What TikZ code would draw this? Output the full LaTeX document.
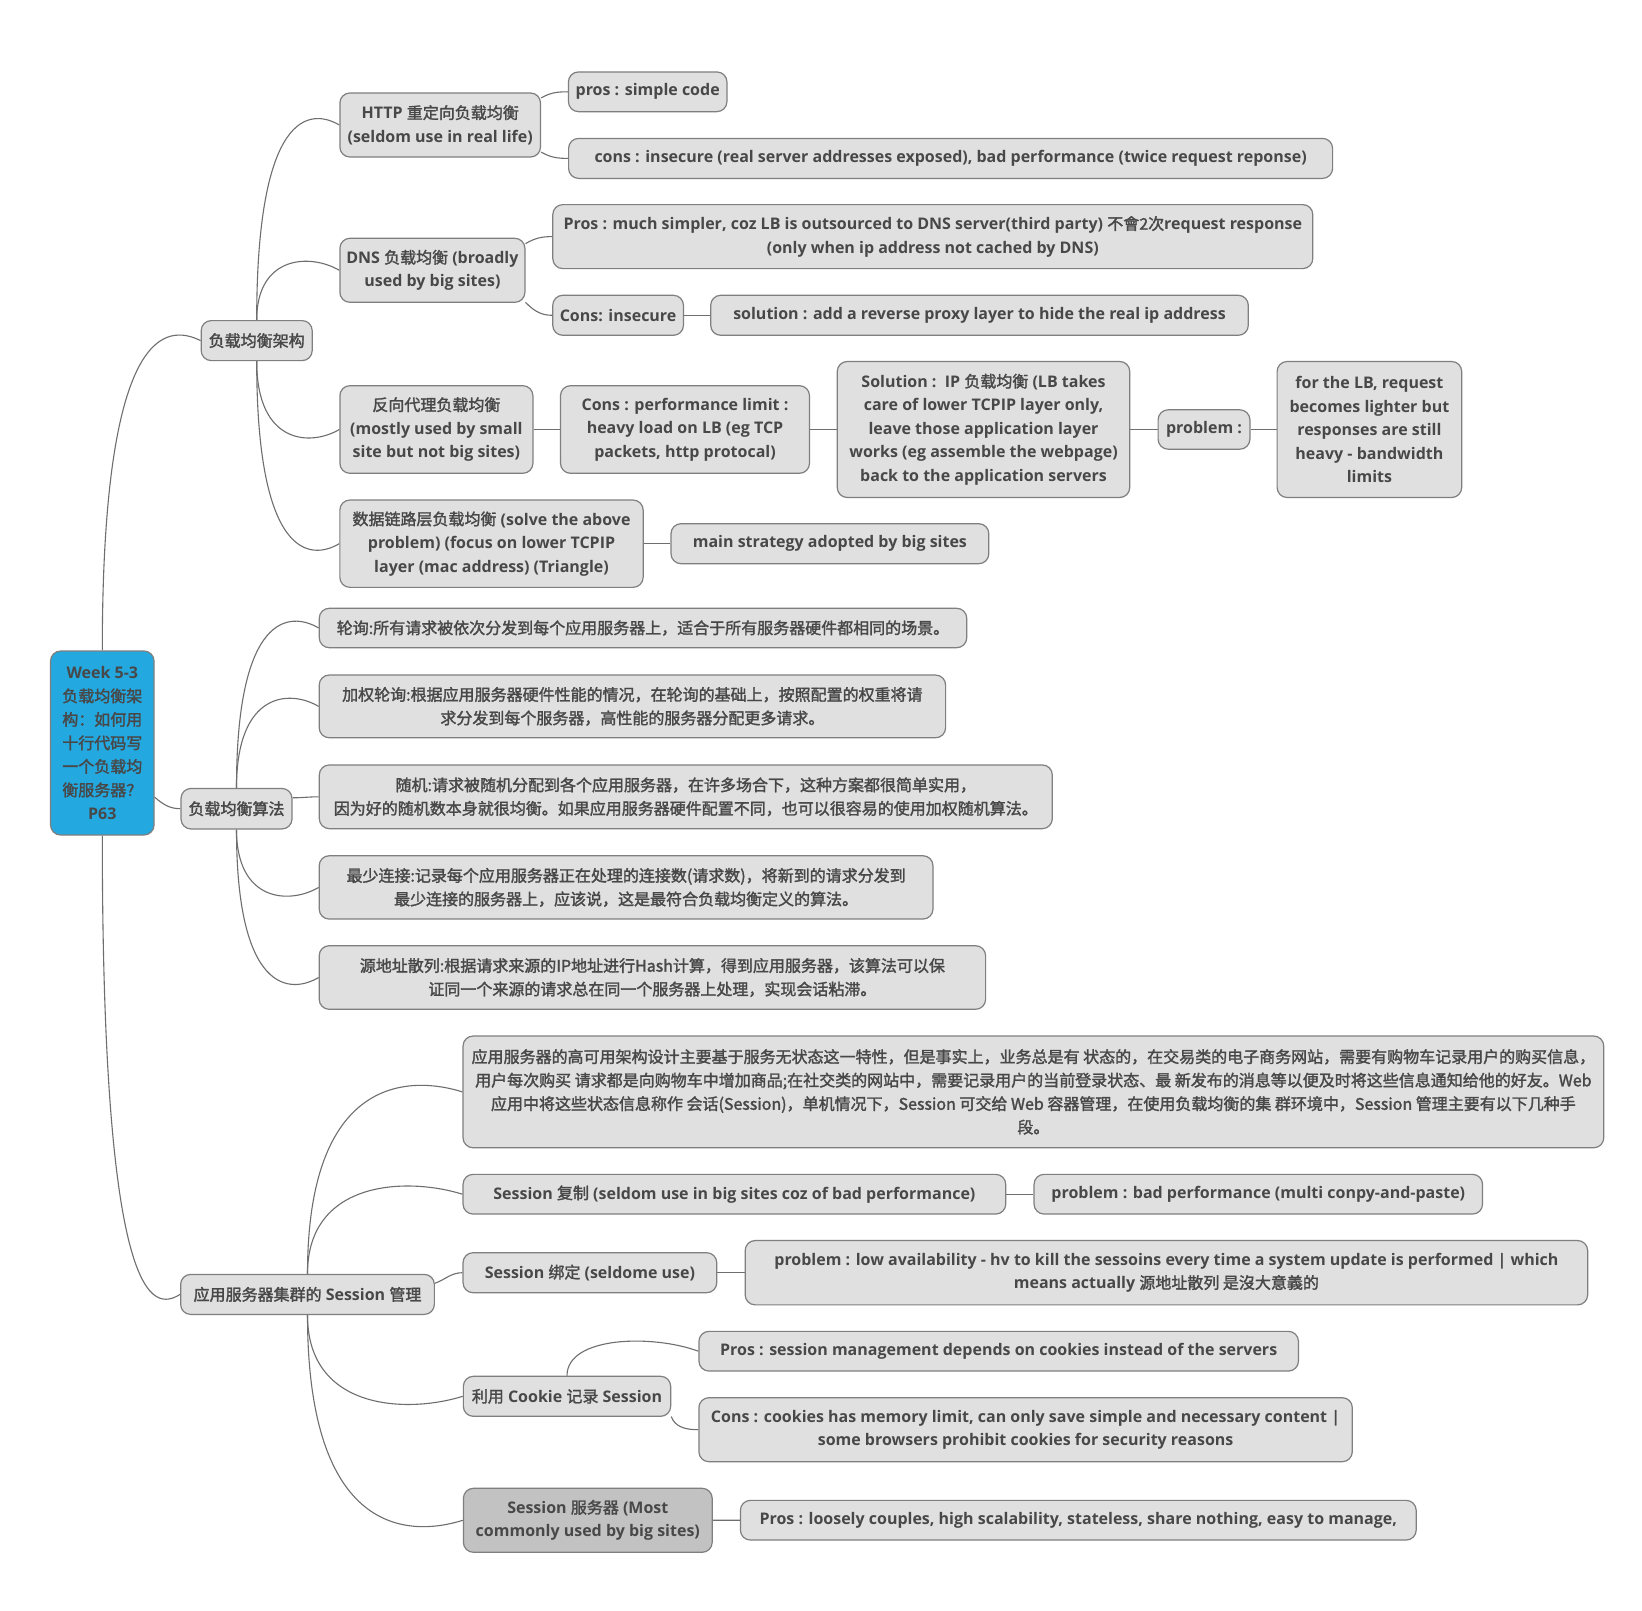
\documentclass[tikz,border=0pt]{standalone}
\usepackage{fontspec}
\setmainfont{Open Sans}
\newfontfamily\cjk{Noto Sans CJK SC}[BoldFont={Noto Sans CJK SC},BoldFeatures={FakeBold=1.8}]
\usepackage{tikz}
\usetikzlibrary{calc,backgrounds}
\definecolor{boxfill}{HTML}{E0E0E0}
\definecolor{boxline}{HTML}{7F7F7F}
\definecolor{txt}{HTML}{484848}
\definecolor{rootfill}{HTML}{23A8E0}
\definecolor{darkfill}{HTML}{C2C2C2}
\definecolor{linkcol}{HTML}{6E6E6E}
\newcommand{\zh}[1]{{\cjk #1}}
\newcommand{\curveup}[2]{\draw[link] (#1) .. controls ($(#1 |- #2)+(0,15)$) and ($(#2)!0.35!(#1 |- #2)+(0,17)$) .. (#2);}
\newcommand{\curvedown}[2]{\draw[link] (#1) .. controls ($(#1 |- #2)+(0,-15)$) and ($(#2)!0.35!(#1 |- #2)+(0,-17)$) .. (#2);}

\begin{document}
\begin{tikzpicture}[x=1pt,y=1pt,
		every node/.style={font=\fontsize{16}{23.5}\selectfont\bfseries},
		topic/.style={draw=boxline,line width=1.2pt,fill=boxfill,rounded corners=10,inner sep=0,align=center,text=txt},
		zhtext/.style={font=\fontsize{16}{23.5}\selectfont\bfseries\cjk},
		link/.style={draw=linkcol,line width=1.1pt}]
	\useasboundingbox (0,0) rectangle (1642,-1611);
	% central topic
	\node[topic,fill=rootfill,minimum width=103.5,minimum height=184] (root) at (102.3,-743)
		{Week 5-3\\\zh{负载均衡架}\\\zh{构：如何用}\\\zh{十行代码写}\\\zh{一个负载均}\\\zh{衡服务器？}\\P63};
	% load balancing architecture
	\node[topic,zhtext,minimum width=111,minimum height=40] (arch) at (256.7,-340.6) {负载均衡架构};
	\node[topic,minimum width=200.6,minimum height=64] (http) at (440.2,-125) {HTTP \zh{重定向负载均衡}\\(seldom use in real life)};
	\node[topic,minimum width=158.5,minimum height=39.7] (pros1) at (647.7,-91.8) {pros : simple code};
	\node[topic,minimum width=764,minimum height=40] (cons1) at (950.6,-158.4) {cons : insecure (real server addresses exposed), bad performance (twice request reponse)};
	\node[topic,minimum width=185,minimum height=64] (dns) at (432.4,-270.3) {DNS \zh{负载均衡} (broadly\\used by big sites)};
	\node[topic,minimum width=760,minimum height=64] (pros2) at (932.8,-236.6) {Pros : much simpler, coz LB is outsourced to DNS server(third party) \zh{不會2次}request response\\(only when ip address not cached by DNS)};
	\node[topic,minimum width=130.7,minimum height=40] (cons2) at (618.1,-315.3) {Cons: insecure};
	\node[topic,minimum width=537.6,minimum height=40] (sol2) at (979.5,-315.3) {solution : add a reverse proxy layer to hide the real ip address};
	\node[topic,minimum width=193,minimum height=87.6] (rproxy) at (436.4,-429.5) {\zh{反向代理负载均衡}\\(mostly used by small\\site but not big sites)};
	\node[topic,minimum width=249,minimum height=87.6] (cons3) at (685,-429.5) {Cons : performance limit :\\heavy load on LB (eg TCP\\packets, http protocal)};
	\node[topic,minimum width=292.5,minimum height=136] (sol3) at (983.5,-429.5) {Solution :\ \ IP \zh{负载均衡} (LB takes\\care of lower TCPIP layer only,\\leave those application layer\\works (eg assemble the webpage)\\back to the application servers};
	\node[topic,minimum width=91.8,minimum height=39.4] (prob3) at (1204,-429.5) {problem :};
	\node[topic,minimum width=184.6,minimum height=136] (lb) at (1369.4,-429.5) {for the LB, request\\becomes lighter but\\responses are still\\heavy - bandwidth\\limits};
	\node[topic,minimum width=303.3,minimum height=87.3] (dlink) at (491.5,-543.7) {\zh{数据链路层负载均衡} (solve the above\\problem) (focus on lower TCPIP\\layer (mac address) (Triangle)};
	\node[topic,minimum width=317.8,minimum height=40] (mainstrat) at (829.9,-543.7) {main strategy adopted by big sites};
	% algorithms
	\node[topic,zhtext,minimum width=111,minimum height=40.5] (algo) at (236.5,-808.7) {负载均衡算法};
	\node[topic,zhtext,minimum width=647.5,minimum height=39.4] (rr) at (643,-628) {轮询:所有请求被依次分发到每个应用服务器上，适合于所有服务器硬件都相同的场景。};
	\node[topic,zhtext,minimum width=626.4,minimum height=62.7] (wrr) at (632.4,-706.4) {加权轮询:根据应用服务器硬件性能的情况，在轮询的基础上，按照配置的权重将请\\求分发到每个服务器，高性能的服务器分配更多请求。};
	\node[topic,zhtext,minimum width=733,minimum height=63.7] (rand) at (685.8,-796.8) {随机:请求被随机分配到各个应用服务器，在许多场合下，这种方案都很简单实用，\\因为好的随机数本身就很均衡。如果应用服务器硬件配置不同，也可以很容易的使用加权随机算法。};
	\node[topic,zhtext,minimum width=613.8,minimum height=63.3] (least) at (626.1,-887.4) {最少连接:记录每个应用服务器正在处理的连接数(请求数)，将新到的请求分发到\\最少连接的服务器上，应该说，这是最符合负载均衡定义的算法。};
	\node[topic,zhtext,minimum width=666.4,minimum height=63.6] (hash) at (652.4,-977.5) {源地址散列:根据请求来源的IP地址进行Hash计算，得到应用服务器，该算法可以保\\证同一个来源的请求总在同一个服务器上处理，实现会话粘滞。};
	% session management
	\node[topic,minimum width=253.7,minimum height=40] (sess) at (307.5,-1294.4) {\zh{应用服务器集群的} Session \zh{管理}};
	\node[topic,zhtext,minimum width=1140.7,minimum height=111.7] (para) at (1033.4,-1091.9) {应用服务器的高可用架构设计主要基于服务无状态这一特性，但是事实上，业务总是有 状态的，在交易类的电子商务网站，需要有购物车记录用户的购买信息，\\用户每次购买 请求都是向购物车中增加商品;在社交类的网站中，需要记录用户的当前登录状态、最 新发布的消息等以便及时将这些信息通知给他的好友。Web\\应用中将这些状态信息称作 会话(Session)，单机情况下，Session 可交给 Web 容器管理，在使用负载均衡的集 群环境中，Session 管理主要有以下几种手\\段。};
	\node[topic,minimum width=542.7,minimum height=39.7] (repl) at (734.4,-1194.2) {Session \zh{复制} (seldom use in big sites coz of bad performance)};
	\node[topic,minimum width=448.5,minimum height=39.7] (replp) at (1258.3,-1194.2) {problem : bad performance (multi conpy-and-paste)};
	\node[topic,minimum width=253.7,minimum height=40] (bind) at (589.9,-1272.7) {Session \zh{绑定} (seldome use)};
	\node[topic,minimum width=842.5,minimum height=64.3] (bindp) at (1166.4,-1272.7) {problem : low availability - hv to kill the sessoins every time a system update is performed | which\\means actually \zh{源地址散列 是沒大意義的}};
	\node[topic,minimum width=207.3,minimum height=40] (cookie) at (567,-1396.3) {\zh{利用} Cookie \zh{记录} Session};
	\node[topic,minimum width=599.5,minimum height=39.7] (cpros) at (998.7,-1351.2) {Pros : session management depends on cookies instead of the servers};
	\node[topic,minimum width=653.4,minimum height=64] (ccons) at (1025.6,-1429.7) {Cons : cookies has memory limit, can only save simple and necessary content |\\some browsers prohibit cookies for security reasons};
	\node[topic,fill=darkfill,minimum width=248.8,minimum height=64] (sserv) at (587.8,-1520.3) {Session \zh{服务器} (Most\\commonly used by big sites)};
	\node[topic,minimum width=675.8,minimum height=39.7] (spros) at (1078.3,-1520.2) {Pros : loosely couples, high scalability, stateless, share nothing, easy to manage,};
	% connectors
	\begin{scope}[on background layer]
		\fill[white] (0,0) rectangle (1642,-1611);
		\curveup{root.north}{arch.west}
		\draw[link] (root.-46) to[out=-40,in=180] (algo.west);
		\curvedown{root.south}{sess.west}
		\curveup{arch.north}{http.west}
		\curveup{arch.north}{dns.west}
		\curvedown{arch.south}{rproxy.west}
		\curvedown{arch.south}{dlink.west}
		\draw[link] (http.15) to[out=30,in=180] (pros1.west);
		\draw[link] (http.-15) to[out=-30,in=180] (cons1.west);
		\draw[link] (dns.16) to[out=30,in=180] (pros2.west);
		\draw[link] (dns.-19) to[out=-45,in=180] (cons2.west);
		\draw[link] (cons2) -- (sol2);
		\draw[link] (rproxy) -- (cons3);
		\draw[link] (cons3) -- (sol3);
		\draw[link] (sol3) -- (prob3);
		\draw[link] (prob3) -- (lb);
		\draw[link] (dlink) -- (mainstrat);
		\curveup{algo.north}{rr.west}
		\curveup{algo.north}{wrr.west}
		\draw[link] (algo.11) to[out=0,in=180] (rand.west);
		\curvedown{algo.south}{least.west}
		\curvedown{algo.south}{hash.west}
		\curveup{sess.north}{para.west}
		\curveup{sess.north}{repl.west}
		\draw[link] (sess.5) to[out=20,in=180] (bind.west);
		\curvedown{sess.south}{cookie.west}
		\curvedown{sess.south}{sserv.west}
		\draw[link] (repl) -- (replp);
		\draw[link] (bind) -- (bindp);
		\draw[link] (sserv) -- (spros);
		\curveup{cookie.north}{cpros.west}
		\draw[link] (cookie.-11) to[out=-70,in=180] (ccons.west);
	\end{scope}
\end{tikzpicture}
\end{document}
